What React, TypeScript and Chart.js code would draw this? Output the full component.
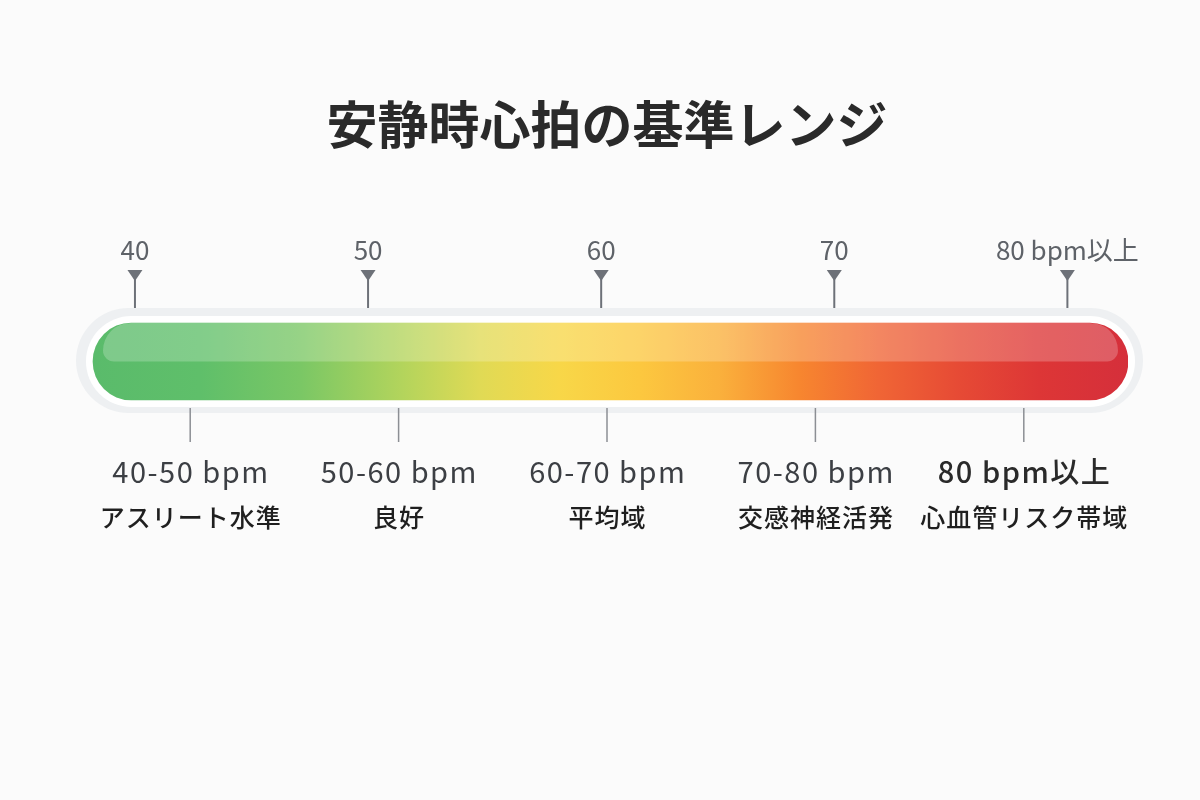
import React, { useEffect, useRef } from 'react';
import { Chart, registerables } from 'chart.js';

Chart.register(...registerables);

const TITLE = '安静時心拍の基準レンジ';
const TOP_TICKS = [40, 50, 60, 70, 80];
const TOP_LABELS = ['40', '50', '60', '70', '80 bpm以上'];
const RANGE_LABELS = ['40-50 bpm', '50-60 bpm', '60-70 bpm', '70-80 bpm', '80 bpm以上'];
const RANGE_NOTES = ['アスリート水準', '良好', '平均域', '交感神経活発', '心血管リスク帯域'];
const BAR_RANGE: [number, number] = [38.2, 82.6];
const AXIS_MIN = 37.9;
const AXIS_MAX = 82.6;
const GRADIENT_AT = [38.2, 42.8, 47.1, 51.4, 54.8, 58.2, 61.6, 65.1, 68.5, 71.9, 75.4, 78.8, 82.6];
const GRADIENT_COLORS = [
  '#5abb6b', '#5fbf6a', '#7ac765', '#b2d45c', '#e0da55', '#f8d748', '#fcc83f',
  '#fab03c', '#f7862f', '#f06535', '#e64a35', '#dd3636', '#d52f3b',
];

const FONT = '"Noto Sans CJK JP", "Noto Sans", sans-serif';

function roundRect(ctx: CanvasRenderingContext2D, x: number, y: number, w: number, h: number, r: any) {
  ctx.beginPath();
  (ctx as any).roundRect(x, y, w, h, r);
}

function barBox(chart: any) {
  const el = chart.getDatasetMeta(0).data[0];
  if (!el) return null;
  const p = el.getProps(['x', 'base', 'y', 'height'], true);
  const left = Math.min(p.x, p.base);
  const right = Math.max(p.x, p.base);
  const top = p.y - p.height / 2;
  const bottom = p.y + p.height / 2;
  return { left, right, top, bottom, height: p.height };
}

const decorPlugin = {
  id: 'decor',
  beforeDatasetsDraw(chart: any) {
    const b = barBox(chart);
    if (!b) return;
    const ctx = chart.ctx as CanvasRenderingContext2D;
    ctx.save();
    const o = 15;
    roundRect(ctx, b.left - o - 2, b.top - o, b.right - b.left + 2 * o + 2, b.height + 2 * o - 2, (b.height + 2 * o) / 2);
    ctx.fillStyle = '#eef0f2';
    ctx.fill();
    const w = 7;
    roundRect(ctx, b.left - w, b.top - w, b.right - b.left + 2 * w, b.height + 2 * w, (b.height + 2 * w) / 2);
    ctx.fillStyle = '#ffffff';
    ctx.fill();
    ctx.restore();
  },
  afterDatasetsDraw(chart: any) {
    const b = barBox(chart);
    if (!b) return;
    const ctx = chart.ctx as CanvasRenderingContext2D;
    // glossy highlight on upper half
    ctx.save();
    roundRect(ctx, b.left, b.top, b.right - b.left, b.height, b.height / 2);
    ctx.clip();
    roundRect(ctx, b.left + 10, b.top, b.right - b.left - 20, b.height / 2, [30, 30, 12, 12]);
    ctx.fillStyle = 'rgba(255,255,255,0.22)';
    ctx.fill();
    ctx.restore();

    // top markers
    const xs = chart.scales.x;
    ctx.save();
    ctx.fillStyle = '#6d7178';
    ctx.strokeStyle = '#6d7178';
    ctx.lineWidth = 2;
    TOP_TICKS.forEach((v) => {
      const px = xs.getPixelForValue(v);
      const ty = b.top - 53;
      ctx.beginPath();
      ctx.moveTo(px - 7.5, ty);
      ctx.lineTo(px + 7.5, ty);
      ctx.lineTo(px, ty + 11);
      ctx.closePath();
      ctx.fill();
      ctx.beginPath();
      ctx.moveTo(px, ty + 8);
      ctx.lineTo(px, b.top - 15);
      ctx.stroke();
    });
    ctx.restore();

    // bottom range ticks & labels
    const x2 = chart.scales.x2;
    ctx.save();
    ctx.strokeStyle = '#8c8f94';
    ctx.lineWidth = 1.5;
    ctx.textAlign = 'center';
    ctx.textBaseline = 'middle';
    RANGE_LABELS.forEach((lab, i) => {
      const px = x2.getPixelForValue(i);
      ctx.beginPath();
      ctx.moveTo(px, b.bottom + 8);
      ctx.lineTo(px, b.bottom + 42);
      ctx.stroke();
      const last = i === RANGE_LABELS.length - 1;
      ctx.fillStyle = last ? '#2a2a2a' : '#3c3f44';
      ctx.font = `${last ? 500 : 400} 29px ${FONT}`;
      (ctx as any).letterSpacing = '1.5px';
      ctx.fillText(lab, px + 0.75, b.bottom + 72);
      ctx.fillStyle = '#1f1f1f';
      ctx.font = `500 25px ${FONT}`;
      (ctx as any).letterSpacing = '1px';
      ctx.fillText(RANGE_NOTES[i], px + 0.5, b.bottom + 117);
    });
    (ctx as any).letterSpacing = '0px';
    ctx.restore();
  },
};

export default function App() {
  const ref = useRef<HTMLCanvasElement | null>(null);

  useEffect(() => {
    if (!ref.current) return;
    const chart = new Chart(ref.current, {
      type: 'bar',
      data: {
        labels: ['安静時心拍'],
        datasets: [
          {
            data: [BAR_RANGE as any],
            barThickness: 77,
            borderRadius: 40,
            borderSkipped: false,
            backgroundColor: (c: any) => {
              const ch = c.chart;
              const xs = ch.scales?.x;
              if (!ch.chartArea || !xs) return GRADIENT_COLORS[0];
              const x0 = xs.getPixelForValue(BAR_RANGE[0]);
              const x1 = xs.getPixelForValue(BAR_RANGE[1]);
              const g = ch.ctx.createLinearGradient(x0, 0, x1, 0);
              GRADIENT_AT.forEach((v, i) => {
                const t = Math.min(1, Math.max(0, (v - BAR_RANGE[0]) / (BAR_RANGE[1] - BAR_RANGE[0])));
                g.addColorStop(t, GRADIENT_COLORS[i]);
              });
              return g;
            },
          },
        ],
      },
      options: {
        indexAxis: 'y',
        animation: false,
        responsive: true,
        maintainAspectRatio: false,
        layout: { padding: { left: 86, right: 72, top: 0, bottom: 367 } },
        plugins: {
          legend: { display: false },
          tooltip: { enabled: false },
          title: {
            display: true,
            text: TITLE,
            color: '#2a2a2a',
            font: { family: FONT, size: 51, weight: 'bold' },
            padding: { top: 94.4, bottom: 20 },
          },
        },
        scales: {
          x: {
            type: 'linear',
            position: 'top',
            min: AXIS_MIN,
            max: AXIS_MAX,
            afterBuildTicks: (s: any) => {
              s.ticks = TOP_TICKS.map((v) => ({ value: v }));
            },
            afterFit: (s: any) => {
              s.height = 114.4;
            },
            ticks: {
              padding: 24.4,
              color: '#5e6268',
              font: { family: FONT, size: 26 },
              maxRotation: 0,
              autoSkip: false,
              callback: (v: any) => {
                const i = TOP_TICKS.indexOf(Number(v));
                return i >= 0 ? TOP_LABELS[i] : '';
              },
            },
            grid: { display: false, drawTicks: false },
            border: { display: false },
          },
          x2: {
            type: 'category',
            labels: RANGE_LABELS,
            position: 'bottom',
            display: false,
            offset: true,
          },
          y: {
            type: 'category',
            display: false,
            offset: true,
          },
        },
      } as any,
      plugins: [decorPlugin],
    });
    return () => chart.destroy();
  }, []);

  return (
    <div style={{ position: 'fixed', left: 0, top: 0, width: 1200, height: 800, background: '#fbfbfb' }}>
      <canvas ref={ref} />
    </div>
  );
}
